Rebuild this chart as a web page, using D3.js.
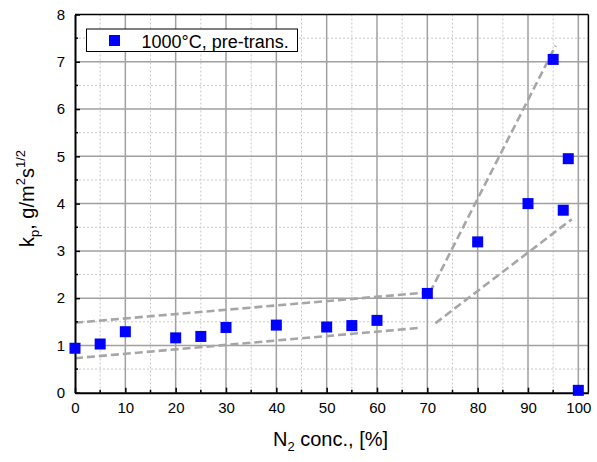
<!DOCTYPE html>
<html><head><meta charset="utf-8">
<script src="https://cdn.jsdelivr.net/npm/d3@7"></script>
<style>body{margin:0;background:#fff}svg{display:block}text{font-family:Arial,"Liberation Sans",sans-serif;fill:#000}</style>
</head><body><svg id="c" width="597" height="462"></svg>
<script>
const n2Conc = [0, 5, 10, 20, 25, 30, 40, 50, 55, 60, 70, 80, 90, 95, 97, 98, 100];
const kpValues = [0.94, 1.03, 1.29, 1.16, 1.19, 1.38, 1.43, 1.39, 1.42, 1.53, 2.10, 3.19, 4.00, 7.05, 3.86, 4.95, 0.05];
const xTicks = [0, 10, 20, 30, 40, 50, 60, 70, 80, 90, 100];
const yTicks = [0, 1, 2, 3, 4, 5, 6, 7, 8];
const guideUpper = [[0, 1.48], [70, 2.12]];
const guideLower = [[0, 0.73], [68.4, 1.37]];
const guideSteep = [[70.5, 2.12], [95.5, 7.34]];
const guideRight = [[71.6, 1.47], [98.7, 3.67]];
const legendLabel = "1000°C, pre-trans.";

const svg = d3.select("#c");
const L = 75, R = 588.4, T = 14.5, B = 392.7;
const x = d3.scaleLinear().domain([0, 102]).range([L, R]);
const y = d3.scaleLinear().domain([0, 8]).range([B, T]);

// minor grid
const minorX = d3.range(5, 102, 10);
const minorY = d3.range(0.5, 8, 1);
svg.append("g").selectAll("line").data(minorX).join("line")
  .attr("x1", d => x(d)).attr("x2", d => x(d)).attr("y1", T).attr("y2", B)
  .attr("stroke", "#c8c8c8").attr("stroke-width", 1).attr("stroke-dasharray", "2,2");
svg.append("g").selectAll("line").data(minorY).join("line")
  .attr("x1", L).attr("x2", R).attr("y1", d => y(d)).attr("y2", d => y(d))
  .attr("stroke", "#c8c8c8").attr("stroke-width", 1).attr("stroke-dasharray", "2,2");
// major grid
svg.append("g").selectAll("line").data(xTicks.slice(1)).join("line")
  .attr("x1", d => x(d)).attr("x2", d => x(d)).attr("y1", T).attr("y2", B)
  .attr("stroke", "#a0a0a0").attr("stroke-width", 1.5);
svg.append("g").selectAll("line").data(yTicks.slice(1, -1)).join("line")
  .attr("x1", L).attr("x2", R).attr("y1", d => y(d)).attr("y2", d => y(d))
  .attr("stroke", "#a0a0a0").attr("stroke-width", 1.5);

// guide lines
const line = d3.line().x(d => x(d[0])).y(d => y(d[1]));
[guideUpper, guideLower, guideSteep, guideRight].forEach(g => {
  svg.append("path").attr("d", line(g)).attr("fill", "none")
    .attr("stroke", "#a6a6a6").attr("stroke-width", 2.6).attr("stroke-dasharray", "8,4");
});

// axes
const xAxis = d3.axisBottom(x).tickValues(xTicks).tickSizeInner(-5).tickSizeOuter(0).tickPadding(10);
const gx = svg.append("g").attr("transform", `translate(0,${B})`).call(xAxis);
gx.select(".domain").attr("stroke-width", 2);
gx.selectAll(".tick line").attr("stroke-width", 1.5);
gx.selectAll("text").attr("font-size", 15).attr("fill", "#000");
const yAxis = d3.axisLeft(y).tickValues(yTicks).tickSizeInner(-5).tickSizeOuter(0).tickPadding(10);
const gy = svg.append("g").attr("transform", `translate(${L},0)`).call(yAxis);
gy.select(".domain").attr("stroke-width", 2);
gy.selectAll(".tick line").attr("stroke-width", 1.5);
gy.selectAll("text").attr("font-size", 15).attr("fill", "#000");
// minor ticks
svg.append("g").selectAll("line").data(minorX).join("line")
  .attr("x1", d => x(d)).attr("x2", d => x(d)).attr("y1", B).attr("y2", B - 3)
  .attr("stroke", "#000").attr("stroke-width", 1.5);
svg.append("g").selectAll("line").data(minorY).join("line")
  .attr("x1", L).attr("x2", L + 3).attr("y1", d => y(d)).attr("y2", d => y(d))
  .attr("stroke", "#000").attr("stroke-width", 1.5);
// top & right frame
svg.append("line").attr("x1", L).attr("x2", R).attr("y1", T).attr("y2", T).attr("stroke", "#000").attr("stroke-width", 1.5);
svg.append("line").attr("x1", R).attr("x2", R).attr("y1", T).attr("y2", B).attr("stroke", "#000").attr("stroke-width", 1.5);

// points
const s = 11;
svg.append("g").selectAll("rect").data(n2Conc.map((d, i) => [d, kpValues[i]])).join("rect")
  .attr("x", d => x(d[0]) - s / 2).attr("y", d => y(d[1]) - s / 2)
  .attr("width", s).attr("height", s).attr("fill", "#0000ff");

// legend
svg.append("rect").attr("x", 86.5).attr("y", 29).attr("width", 211).attr("height", 22.5)
  .attr("fill", "#fff").attr("stroke", "#000").attr("stroke-width", 1);
svg.append("rect").attr("x", 109).attr("y", 35).attr("width", 11).attr("height", 11).attr("fill", "#0000ff");
svg.append("text").attr("x", 141.5).attr("y", 47.5).attr("font-size", 18).text(legendLabel);

// axis titles
const xt = svg.append("text").attr("x", 273).attr("y", 446).attr("font-size", 20);
xt.append("tspan").text("N");
xt.append("tspan").attr("font-size", 13).attr("dy", 5).text("2");
xt.append("tspan").attr("dy", -5).text(" conc., [%]");

const yt = svg.append("text").attr("transform", "translate(34,247) rotate(-90)").attr("font-size", 20);
yt.append("tspan").text("k");
yt.append("tspan").attr("font-size", 13).attr("dy", 5).text("p");
yt.append("tspan").attr("dy", -5).text(", g/m");
yt.append("tspan").attr("font-size", 13).attr("dy", -9).text("2");
yt.append("tspan").attr("dy", 9).text("s");
yt.append("tspan").attr("font-size", 13).attr("dy", -9).text("1/2");
</script></body></html>
